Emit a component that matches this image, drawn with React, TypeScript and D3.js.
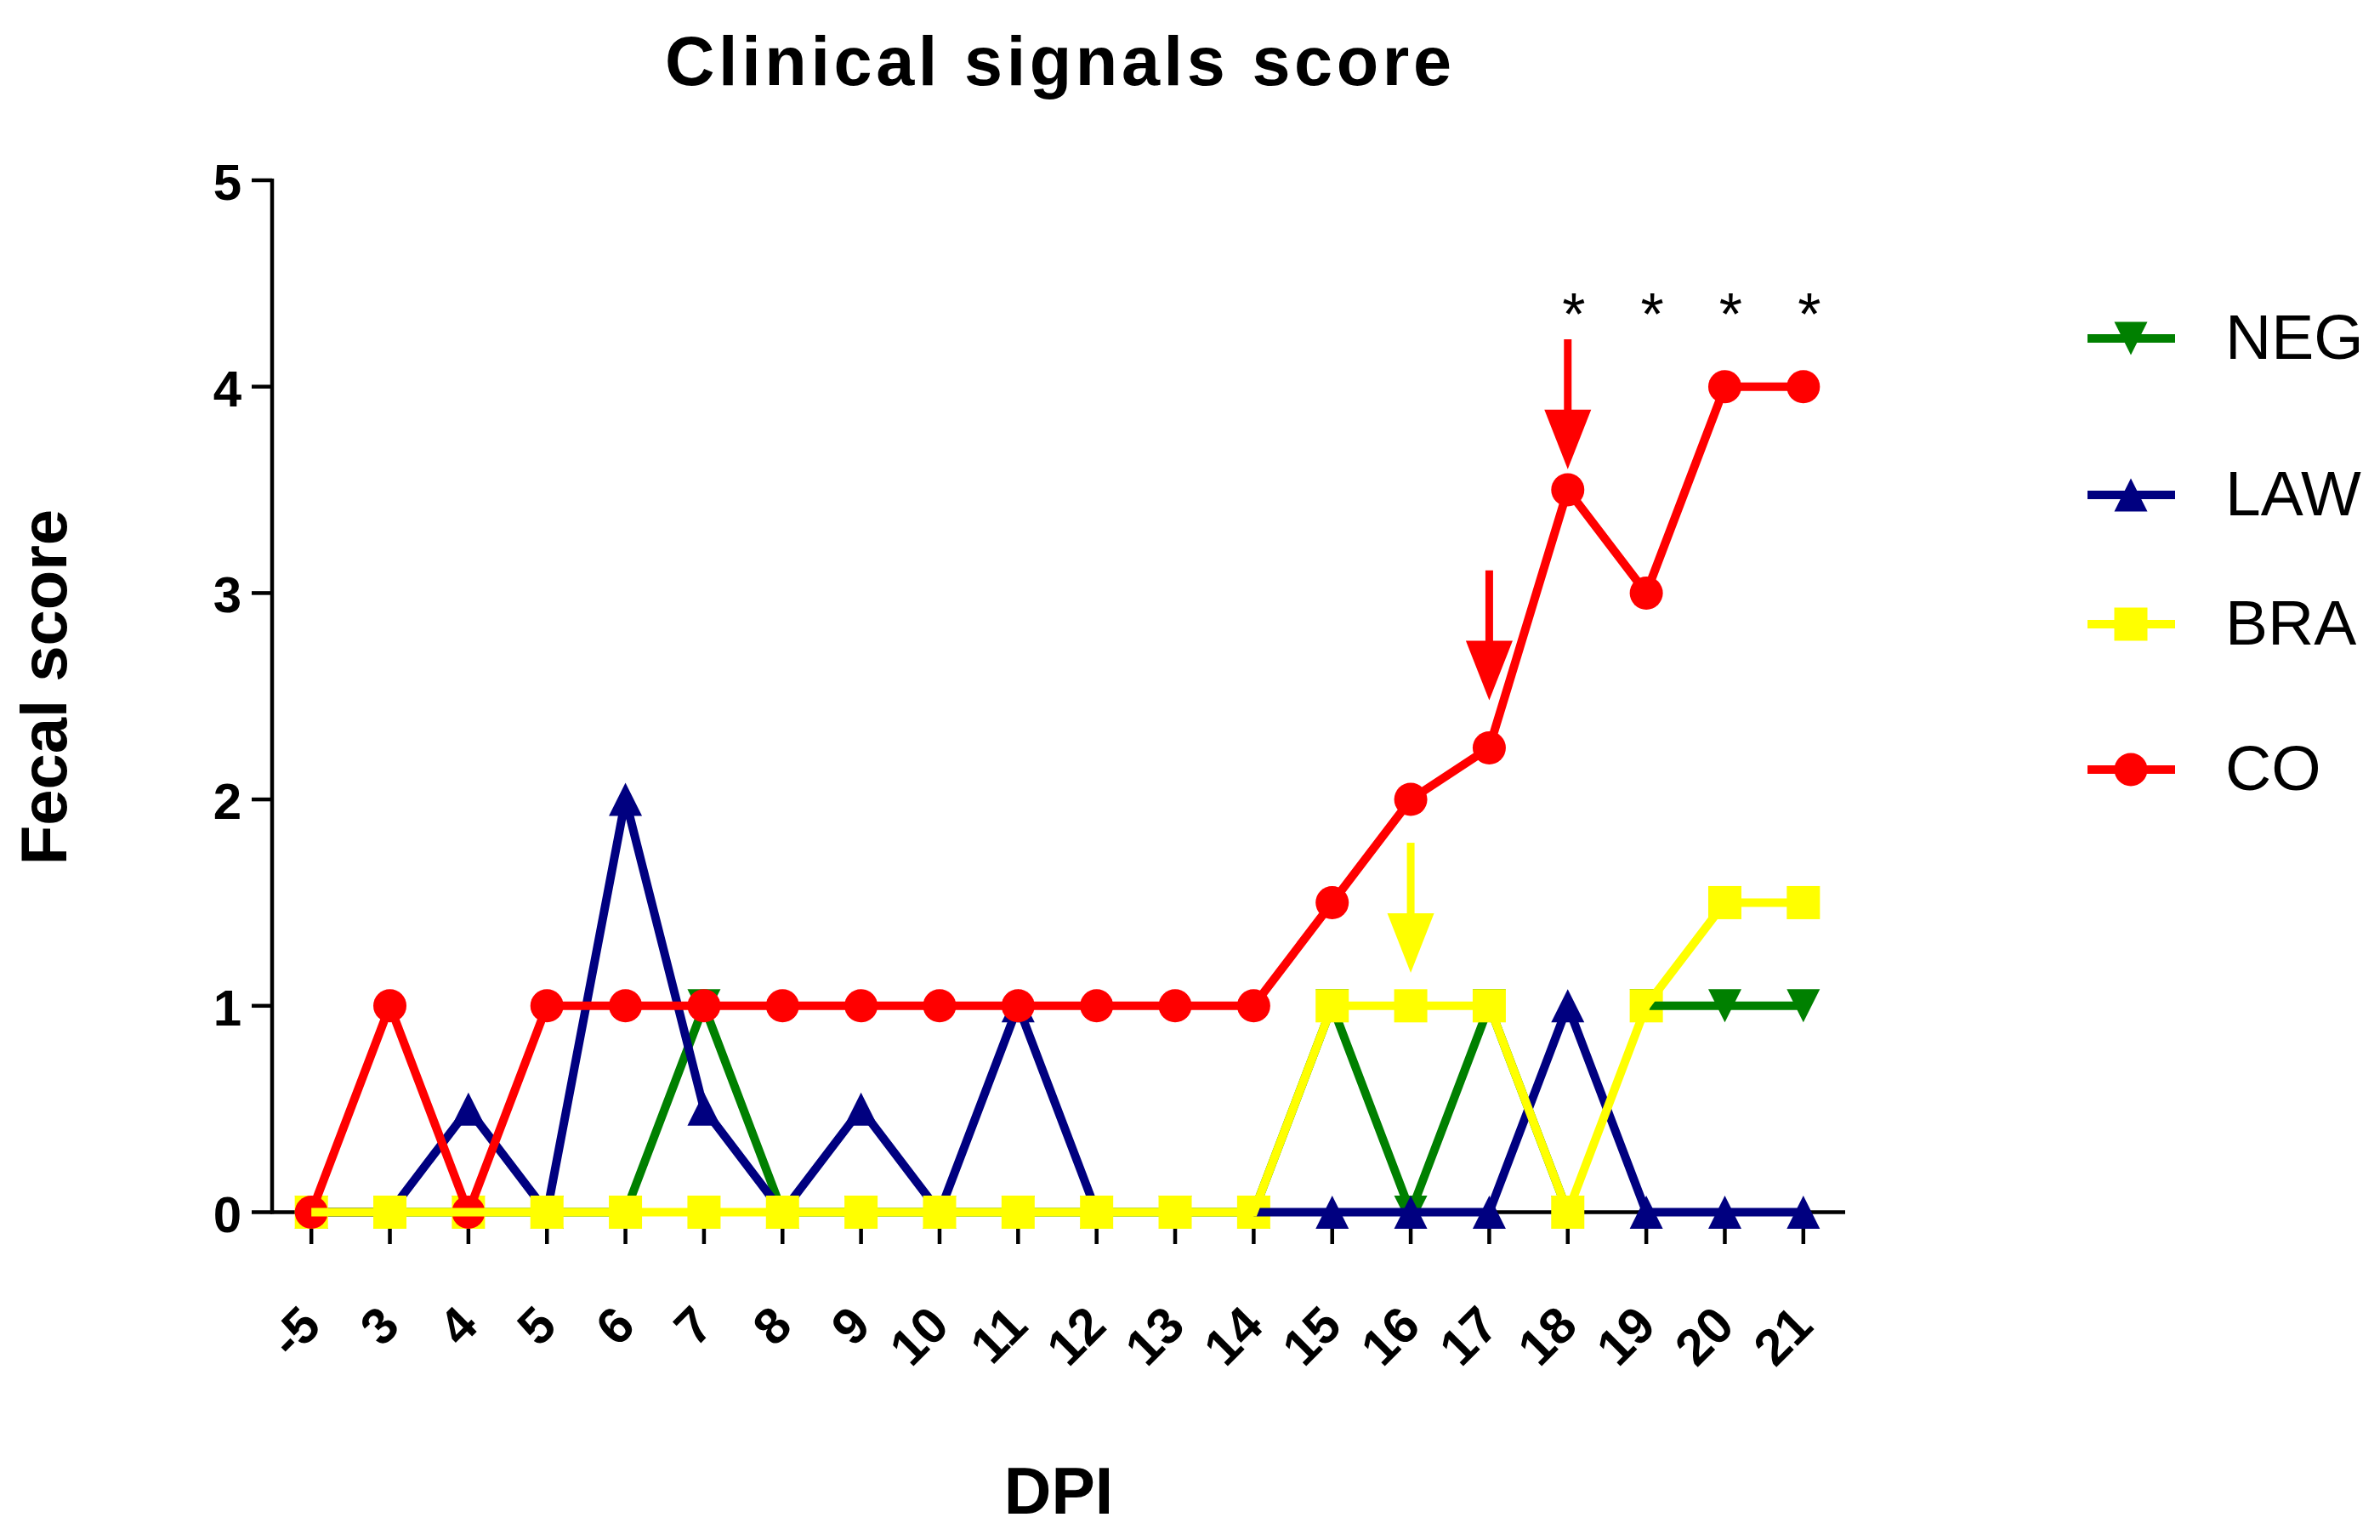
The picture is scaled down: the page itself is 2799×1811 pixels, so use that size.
import * as d3 from "d3";

// DPI categories (x axis)
const days = ["-5", "3", "4", "5", "6", "7", "8", "9", "10", "11", "12", "13", "14", "15", "16", "17", "18", "19", "20", "21"];

// NEG and LAW were plotted in two pieces each; the later piece's line sits on top of BRA's squares
const negEarly = [0, 0, 0, 0, 0, 1, 0, 0, 0, 0, 0, 0, 0, 1, 0, 1, 0, null, null, null];
const negLate = [null, null, null, null, null, null, null, null, null, null, null, null, null, null, null, null, null, 1, 1, 1];
const lawEarly = [0, 0, 0.5, 0, 2, 0.5, 0, 0.5, 0, 1, 0, null, null, null, null, null, null, null, null, null];
const lawLate = [null, null, null, null, null, null, null, null, null, null, null, null, 0, 0, 0, 0, 1, 0, 0, 0];
const bra = [0, 0, 0, 0, 0, 0, 0, 0, 0, 0, 0, 0, 0, 1, 1, 1, 0, 1, 1.5, 1.5];
const co = [0, 1, 0, 1, 1, 1, 1, 1, 1, 1, 1, 1, 1, 1.5, 2, 2.25, 3.5, 3, 4, 4];

const yTicks = [0, 1, 2, 3, 4, 5];

const legendNames = ["NEG", "LAW", "BRA", "CO"];
const legendShapes = ["down", "up", "square", "circle"];

// arrows pointing at days, from/to in score units
const arrowDays = ["16", "17", "18"];
const arrowFrom = [1.79, 3.11, 4.23];
const arrowTo = [1.16, 2.48, 3.6];
const arrowSeries = ["BRA", "CO", "CO"];

// significance stars
const starDays = ["18", "19", "20", "21"];
const starLevel = 4.25;

const colors: Record<string, string> = {
  NEG: "#008000",
  LAW: "#000080",
  BRA: "#FFFF00",
  CO: "#FF0000",
};

const W = 2799;
const H = 1811;
const font = "Arial, 'Liberation Sans', Helvetica, sans-serif";
const MS = 19.5; // half marker size
const LW = 10; // series line width

function Marker({ shape, x, y, color }: { shape: string; x: number; y: number; color: string }) {
  if (shape === "circle") return <circle cx={x} cy={y} r={MS} fill={color} />;
  if (shape === "square") return <rect x={x - MS} y={y - MS} width={MS * 2} height={MS * 2} fill={color} />;
  const pts =
    shape === "up"
      ? [[x - MS, y + MS], [x, y - MS], [x + MS, y + MS]]
      : [[x - MS, y - MS], [x, y + MS], [x + MS, y - MS]];
  return <polygon points={pts.map((p) => p.join(",")).join(" ")} fill={color} />;
}

export default function App() {
  const x = d3.scalePoint<string>().domain(days).range([320, 2167]).padding(0.5);
  const y = d3.scaleLinear().domain([0, 5]).range([1425.5, 212]);

  const line = d3
    .line<number | null>()
    .defined((d) => d !== null)
    .x((_, i) => x(days[i]) as number)
    .y((d) => y(d as number));

  // draw order
  const layers = [
    { values: negEarly, name: "NEG", shape: "down", path: true, marks: true },
    { values: lawEarly, name: "LAW", shape: "up", path: true, marks: true },
    { values: negLate, name: "NEG", shape: "down", path: false, marks: true },
    { values: lawLate, name: "LAW", shape: "up", path: false, marks: true },
    { values: bra, name: "BRA", shape: "square", path: false, marks: true },
    { values: lawLate, name: "LAW", shape: "up", path: true, marks: false },
    { values: negLate, name: "NEG", shape: "down", path: true, marks: false },
    { values: co, name: "CO", shape: "circle", path: true, marks: true },
    { values: bra, name: "BRA", shape: "square", path: true, marks: false },
  ];

  const legendY = [398, 582, 734, 905];

  return (
    <svg
      width={W}
      height={H}
      viewBox={`0 0 ${W} ${H}`}
      style={{ position: "absolute", left: 0, top: 0, background: "#fff" }}
      fontFamily={font}
    >
      <rect width={W} height={H} fill="#fff" />

      {/* title */}
      <text x={1244.5} y={100} textAnchor="middle" fontSize={81} fontWeight="bold" textLength={925} lengthAdjust="spacing">
        Clinical signals score
      </text>

      {/* y axis */}
      <line x1={320} x2={320} y1={y(5) - 2} y2={y(0) + 2} stroke="#000" strokeWidth={4.5} />
      {yTicks.map((t) => (
        <g key={t}>
          <line x1={296} x2={320} y1={y(t)} y2={y(t)} stroke="#000" strokeWidth={4.5} />
          <text x={284} y={y(t) + 23} textAnchor="end" fontSize={60} fontWeight="bold">
            {t}
          </text>
        </g>
      ))}
      <text transform="translate(78,808) rotate(-90)" textAnchor="middle" fontSize={76} fontWeight="bold">
        Fecal score
      </text>

      {/* x axis */}
      <line x1={318} x2={2170} y1={y(0)} y2={y(0)} stroke="#000" strokeWidth={4.5} />
      {days.map((d) => (
        <g key={d}>
          <line x1={x(d)} x2={x(d)} y1={y(0)} y2={1463} stroke="#000" strokeWidth={4.5} />
          <text
            transform={`translate(${(x(d) as number) + 14},1562) rotate(-45)`}
            textAnchor="end"
            fontSize={60}
            fontWeight="bold"
          >
            {d}
          </text>
        </g>
      ))}
      <text x={1245} y={1780} textAnchor="middle" fontSize={77} fontWeight="bold">
        DPI
      </text>

      {/* series */}
      {layers.map((L, li) => (
        <g key={li}>
          {L.path && <path d={line(L.values) ?? ""} fill="none" stroke={colors[L.name]} strokeWidth={LW} />}
          {L.marks &&
            L.values.map((v, i) =>
              v === null ? null : (
                <Marker key={i} shape={L.shape} x={x(days[i]) as number} y={y(v)} color={colors[L.name]} />
              )
            )}
        </g>
      ))}

      {/* arrows */}
      {arrowDays.map((d, i) => {
        const ax = x(d) as number;
        const top = y(arrowFrom[i]);
        const tip = y(arrowTo[i]);
        const headTop = tip - 70;
        const c = colors[arrowSeries[i]];
        return (
          <g key={d}>
            <line x1={ax} x2={ax} y1={top} y2={headTop + 2} stroke={c} strokeWidth={9} />
            <polygon points={`${ax - 27.5},${headTop} ${ax + 27.5},${headTop} ${ax},${tip}`} fill={c} />
          </g>
        );
      })}

      {/* stars */}
      {starDays.map((d) => (
        <text key={d} x={(x(d) as number) + 7} y={y(starLevel)} textAnchor="middle" fontSize={70}>
          *
        </text>
      ))}

      {/* legend */}
      {legendNames.map((n, i) => (
        <g key={n}>
          <line x1={2455} x2={2558} y1={legendY[i]} y2={legendY[i]} stroke={colors[n]} strokeWidth={10} />
          <Marker shape={legendShapes[i]} x={2506} y={legendY[i]} color={colors[n]} />
          <text x={2617} y={legendY[i] + 24} fontSize={75}>
            {n}
          </text>
        </g>
      ))}
    </svg>
  );
}
